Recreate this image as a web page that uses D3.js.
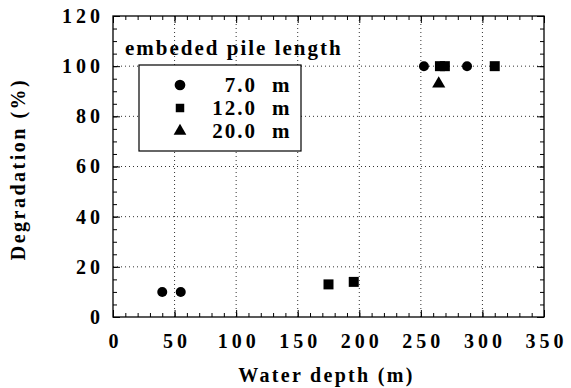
<!DOCTYPE html>
<html><head><meta charset="utf-8">
<script src="https://cdn.jsdelivr.net/npm/d3@7"></script>
<style>
body{margin:0;background:#fff;}
text{font-family:"Liberation Serif","Times New Roman",serif;font-weight:bold;fill:#000;}
</style></head><body>
<svg id="c" width="571" height="388"></svg>
<script>
const xTicks = [0,50,100,150,200,250,300,350];
const yTicks = [0,20,40,60,80,100,120];
const seriesNames = ["7.0","12.0","20.0"];
const seriesUnit = "m";
const circleX = [40,55,252.5,287.5];
const circleY = [10,10,100,100];
const squareX = [175,195.5,265.5,269.5,310];
const squareY = [13,14,100,100,100];
const triangleX = [264.5];
const triangleY = [93];

(function(){
const svg = d3.select("#c");
const W=571,H=388;
const m={l:113,r:W-544,t:16,b:H-317};
const x = d3.scaleLinear().domain([0,350]).range([m.l,W-m.r]);
const y = d3.scaleLinear().domain([0,120]).range([H-m.b,m.t]);

// grid
const g = svg.append("g");
g.selectAll(".gx").data(xTicks.slice(1,-1)).enter().append("line")
 .attr("x1",d=>x(d)).attr("x2",d=>x(d)).attr("y1",y(0)).attr("y2",y(120))
 .attr("stroke","#333").attr("stroke-width",1).attr("stroke-dasharray","1,3");
g.selectAll(".gy").data(yTicks.slice(1,-1)).enter().append("line")
 .attr("y1",d=>y(d)).attr("y2",d=>y(d)).attr("x1",x(0)).attr("x2",x(350))
 .attr("stroke","#333").attr("stroke-width",1).attr("stroke-dasharray","1,3");

const xMinor = d3.range(0,351,10);
const yMinor = d3.range(0,121,5);
const clean = a=>{a.select(".domain").remove();a.selectAll("line").attr("stroke","#000").attr("stroke-width",1);};
svg.append("g").attr("transform",`translate(0,${y(0)})`).call(d3.axisTop(x).tickValues(xMinor).tickSize(4).tickFormat("")).call(clean);
svg.append("g").attr("transform",`translate(0,${y(120)})`).call(d3.axisBottom(x).tickValues(xMinor).tickSize(4).tickFormat("")).call(clean);
svg.append("g").attr("transform",`translate(${x(0)},0)`).call(d3.axisRight(y).tickValues(yMinor).tickSize(4).tickFormat("")).call(clean);
svg.append("g").attr("transform",`translate(${x(350)},0)`).call(d3.axisLeft(y).tickValues(yMinor).tickSize(4).tickFormat("")).call(clean);
svg.append("g").attr("transform",`translate(0,${y(0)})`).call(d3.axisTop(x).tickValues(xTicks).tickSize(7).tickFormat("")).call(clean);
svg.append("g").attr("transform",`translate(0,${y(120)})`).call(d3.axisBottom(x).tickValues(xTicks).tickSize(7).tickFormat("")).call(clean);
svg.append("g").attr("transform",`translate(${x(0)},0)`).call(d3.axisRight(y).tickValues(yTicks).tickSize(7).tickFormat("")).call(clean);
svg.append("g").attr("transform",`translate(${x(350)},0)`).call(d3.axisLeft(y).tickValues(yTicks).tickSize(7).tickFormat("")).call(clean);

svg.append("rect").attr("x",x(0)).attr("y",y(120)).attr("width",x(350)-x(0)).attr("height",y(0)-y(120))
 .attr("fill","none").attr("stroke","#000").attr("stroke-width",1.3);

// tick labels
const xl = svg.append("g").attr("transform",`translate(0,${y(0)})`)
 .call(d3.axisBottom(x).tickValues(xTicks).tickSize(0).tickPadding(17).tickFormat(d3.format("d")));
xl.select(".domain").remove();
xl.selectAll("text").attr("font-size",20).attr("font-family","Liberation Serif").attr("font-weight","bold").attr("letter-spacing","4px").attr("dx","2px");
const yl = svg.append("g").attr("transform",`translate(${x(0)},0)`)
 .call(d3.axisLeft(y).tickValues(yTicks).tickSize(0).tickPadding(13).tickFormat(d3.format("d")));
yl.select(".domain").remove();
yl.selectAll("text").attr("font-size",20).attr("font-family","Liberation Serif").attr("font-weight","bold").attr("letter-spacing","4px").attr("dx","4px");

// axis titles
svg.append("text").attr("x",(x(0)+x(350))/2-2).attr("y",382).attr("text-anchor","middle")
 .attr("font-size",20).attr("letter-spacing","2.3px").text("Water depth (m)");
svg.append("text").attr("transform",`translate(25,169) rotate(-90)`).attr("text-anchor","middle")
 .attr("font-size",20).attr("letter-spacing","2.5px").text("Degradation (%)");

// data
const sym = (type,size)=>d3.symbol().type(type).size(size);
svg.selectAll(".c").data(circleX).enter().append("circle")
 .attr("cx",d=>x(d)).attr("cy",(d,i)=>y(circleY[i])).attr("r",5).attr("fill","#000");
svg.selectAll(".s").data(squareX).enter().append("path")
 .attr("transform",(d,i)=>`translate(${x(d)},${y(squareY[i])})`).attr("d",sym(d3.symbolSquare,100)()).attr("fill","#000");
svg.selectAll(".t").data(triangleX).enter().append("path")
 .attr("transform",(d,i)=>`translate(${x(d)},${y(triangleY[i])})`).attr("d",sym(d3.symbolTriangle,75)()).attr("fill","#000");

// legend
svg.append("text").attr("x",125).attr("y",55).attr("font-size",21).attr("letter-spacing","2px").text("embeded pile length");
svg.append("rect").attr("x",139).attr("y",65).attr("width",162).attr("height",86).attr("fill","#fff").attr("stroke","#000").attr("stroke-width",1.2);
const types=[d3.symbolCircle,d3.symbolSquare,d3.symbolTriangle];
const sizes=[90,72,70];
const ly=[85,108,131];
seriesNames.forEach((n,i)=>{
  svg.append("path").attr("transform",`translate(180,${ly[i]})`).attr("d",sym(types[i],sizes[i])()).attr("fill","#000");
  svg.append("text").attr("x",257).attr("y",ly[i]+7).attr("text-anchor","end").attr("font-size",21).attr("letter-spacing","2px").text(n);
  svg.append("text").attr("x",272).attr("y",ly[i]+7).attr("font-size",21).text(seriesUnit);
});
})();
</script></body></html>
